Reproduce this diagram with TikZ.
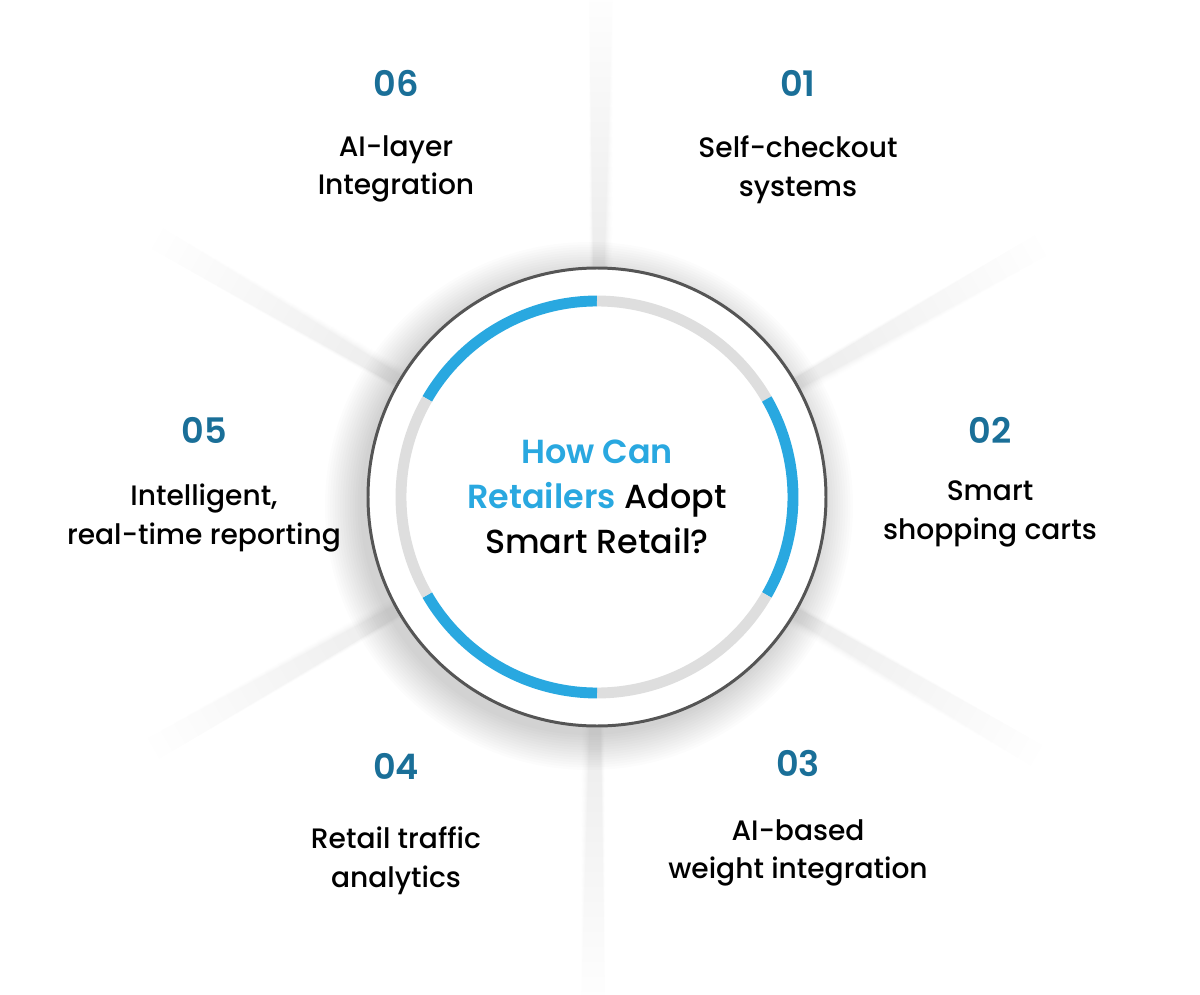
\documentclass[tikz,border=0pt]{standalone}
\usepackage{fontspec}
\setmainfont{Poppins}[UprightFont=* Medium, BoldFont=* SemiBold]
\definecolor{accent}{HTML}{29A8E0}
\definecolor{numblue}{HTML}{1A6F98}
\definecolor{ringgray}{HTML}{DEDEDE}
\definecolor{rimgray}{HTML}{555555}

\begin{document}
\begin{tikzpicture}[x=0.02cm, y=0.02cm,
    num/.style={font=\fontsize{20}{22}\selectfont\bfseries, text=numblue},
    item/.style={font=\fontsize{16}{22}\selectfont, align=center},
    ring/.style={line width=6.2pt},
    beam/.style={black, opacity=0.0045}]
    \useasboundingbox (-597,-497) rectangle (603,497);

    % helle Strahlen
    \foreach \a in {30,90,...,330}
      \foreach \l in {240,255,...,510}
        \fill[beam, rotate=\a] (0,0) -- (\l,-16) -- (\l,8) -- cycle;

    % Schatten
    \foreach \i in {0,...,14}
      \fill[black, opacity=0.013] (-8,-9) circle ({229+\i*2.5});

    % Kreis
    \fill[white] (0,0) circle (229);
    \draw[rimgray, line width=1.7pt] (0,0) circle (229);

    % Ring: blau und grau
    \foreach \s/\c in {90/accent, 30/ringgray, -30/accent, 270/ringgray, 210/accent, 150/ringgray}
      \draw[ring, \c] (\s:196) arc[start angle=\s, end angle=\s+60, radius=196];

    % Titel
    \node[font=\fontsize{19}{25.5}\selectfont, align=center] (title) at (0,0)
      {{\bfseries\color{accent}How Can}\\{\bfseries\color{accent}Retailers} Adopt\\Smart Retail?};

    % Nummer + Text: \drawItem{name}{x}{y nummer}{y text}{text}
    \newcommand{\drawItem}[5]{
      \node[num] (n#1) at (#2,#3) {#1};
      \node[item] (t#1) at (#2,#4) {#5};
    }

    \drawItem{01}{201}{414}{327}{Self-checkout\\systems}
    \drawItem{02}{393}{67}{-17}{Smart\\shopping carts}
    \drawItem{03}{201}{-266}{-356}{AI-based\\weight integration}
    \drawItem{04}{-201}{-269}{-364}{Retail traffic\\analytics}
    \drawItem{05}{-393}{67}{-21}{Intelligent,\\real-time reporting}
    \drawItem{06}{-201}{414}{328}{AI-layer\\Integration}
\end{tikzpicture}
\end{document}
